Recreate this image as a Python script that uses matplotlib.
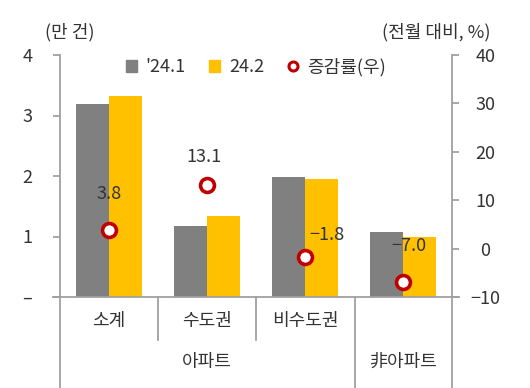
import matplotlib
matplotlib.use("Agg")
import matplotlib.pyplot as plt
from matplotlib.patches import Patch
from matplotlib.lines import Line2D

plt.rcParams['font.family'] = ['Noto Sans CJK KR', 'DejaVu Sans']

categories = ['소계', '수도권', '비수도권', '']
groups = ['아파트', '非아파트']
jan = [3.19, 1.18, 1.98, 1.07]
feb = [3.32, 1.34, 1.95, 0.99]
rate = [3.8, 13.1, -1.8, -7.0]
rate_labels = ['3.8', '13.1', '−1.8', '−7.0']
left_ticks = [0, 1, 2, 3, 4]
left_ticklabels = ['–', '1', '2', '3', '4']
right_ticks = [-10, 0, 10, 20, 30, 40]
right_ticklabels = ['−10', '0', '10', '20', '30', '40']
legend_labels = ["'24.1", '24.2', '증감률(우)']

GRAY = '#808080'
YELLOW = '#FFC000'
RED = '#C00000'
AX = '#A0A0A0'
TXT = '#333333'
FS = 13

W, H = 530, 388
fig = plt.figure(figsize=(W / 100, H / 100), dpi=100)
L, R, T, B = 60, 452, 55, 297
ax = fig.add_axes([L / W, 1 - B / H, (R - L) / W, (B - T) / H])
ax2 = ax.twinx()

x = list(range(len(categories)))
bw = 0.335
ax.bar([i - bw / 2 for i in x], jan, width=bw, color=GRAY, zorder=2)
ax.bar([i + bw / 2 for i in x], feb, width=bw, color=YELLOW, zorder=2)
ax.set_xlim(-0.5, len(categories) - 0.5)
ax.set_ylim(0, 4)
ax.set_yticks(left_ticks)
ax.set_yticklabels(left_ticklabels)
ax.set_xticks([])

ax2.plot(x, rate, linestyle='none', marker='o', ms=10, mfc='white', mec=RED, mew=2.6, zorder=5, clip_on=False)
ax2.set_ylim(-10, 40)
ax2.set_yticks(right_ticks)
ax2.set_yticklabels(right_ticklabels)

offsets = [(0, 26), (-2, 20), (16, 16), (4, 26)]
for xi, v, lab, off in zip(x, rate, rate_labels, offsets):
    ax2.annotate(lab, (xi, v), xytext=off, textcoords='offset points', ha='center', va='center',
                 fontsize=FS, color=TXT, zorder=6)

for a in (ax, ax2):
    for s in a.spines.values():
        s.set_visible(False)
    a.tick_params(axis='y', colors=AX, labelcolor=TXT, labelsize=FS, length=5, width=1.3, direction='out')
ax.tick_params(axis='y', pad=15)
ax2.tick_params(axis='y', pad=19)
for lab in ax2.get_yticklabels():
    lab.set_horizontalalignment('center')

ax.spines['left'].set_visible(True)
ax.spines['left'].set_color(AX)
ax.spines['left'].set_linewidth(1.3)
ax2.spines['right'].set_visible(True)
ax2.spines['right'].set_color(AX)
ax2.spines['right'].set_linewidth(1.3)

def fx(px):
    return px / W

def fy(py):
    return 1 - py / H

# bottom axis line and category separators
fig.add_artist(Line2D([fx(53), fx(459)], [fy(B), fy(B)], color=AX, lw=1.3))
for px in (L, 355, R):
    fig.add_artist(Line2D([fx(px), fx(px)], [fy(B), fy(388)], color=AX, lw=1.3))
for px in (158, 256):
    fig.add_artist(Line2D([fx(px), fx(px)], [fy(B), fy(340)], color=AX, lw=1.3))

# category labels
for xi, c in zip(x, categories):
    if c:
        ax.text(xi, 0, c, transform=ax.get_xaxis_transform(), ha='center', va='center',
                fontsize=FS, color=TXT)
for lab in ax.texts:
    pass
cat_y = fy(321)
for t in ax.texts:
    t.set_transform(fig.transFigure)
cat_px = [109, 207, 305]
for t, px in zip(ax.texts, cat_px):
    t.set_position((fx(px), cat_y))
fig.text(fx(207), fy(362), groups[0], ha='center', va='center', fontsize=FS, color=TXT)
fig.text(fx(403), fy(362), groups[1], ha='center', va='center', fontsize=FS, color=TXT)

# axis titles
fig.text(fx(70), fy(32), '(만 건)', ha='center', va='center', fontsize=FS, color=TXT)
fig.text(fx(491), fy(32), '(전월 대비, %)', ha='right', va='center', fontsize=FS, color=TXT)

handles = [Patch(color=GRAY), Patch(color=YELLOW),
           Line2D([], [], linestyle='none', marker='o', ms=6.5, mfc='white', mec=RED, mew=2.2)]
fig.legend(handles, legend_labels, loc='center', bbox_to_anchor=(fx(256), fy(67)), ncol=3,
           frameon=False, fontsize=FS, handlelength=0.6, handleheight=0.6, handletextpad=0.5,
           columnspacing=1.3, labelcolor=TXT, borderaxespad=0, borderpad=0)

fig.savefig('out.png', dpi=100)
